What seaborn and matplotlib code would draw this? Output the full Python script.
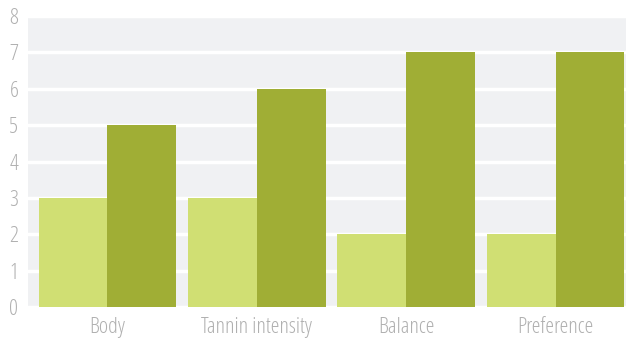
import matplotlib
matplotlib.use("Agg")
import matplotlib.pyplot as plt
import seaborn as sns
import pandas as pd

# datos del gráfico
categorias = ["Body", "Tannin intensity", "Balance", "Preference"]
serie_clara = [3, 3, 2, 2]
serie_oscura = [5, 6, 7, 7]
colores = ["#d0df73", "#a0ae35"]

df = pd.DataFrame({
    "categoria": categorias * 2,
    "valor": serie_clara + serie_oscura,
    "serie": ["A"] * 4 + ["B"] * 4,
})

sns.set_style("white")
plt.rcParams["font.family"] = ["Open Sans", "DejaVu Sans"]
plt.rcParams["font.stretch"] = "condensed"
plt.rcParams["font.weight"] = 300

fig = plt.figure(figsize=(6.27, 3.38), dpi=100)
ax = fig.add_axes([28 / 627, 31 / 338, 598 / 627, 291 / 338])
ax.set_facecolor("#f0f1f3")

sns.barplot(data=df, x="categoria", y="valor", hue="serie", palette=colores,
            width=0.92, saturation=1, linewidth=0, ax=ax, legend=False)

ax.set_ylim(0, 8)
ax.set_xlim(-0.532, 3.472)
ax.set_yticks(range(0, 9))
ax.grid(axis="y", color="white", linewidth=2.5)
ax.set_axisbelow(True)
for s in ax.spines.values():
    s.set_visible(False)
ax.tick_params(length=0, colors="#b0b0b0", labelsize=16)
ax.tick_params(axis="y", pad=7)
ax.tick_params(axis="x", pad=7)
ax.set_xlabel("")
ax.set_ylabel("")

fig.savefig("out.png", dpi=100)
